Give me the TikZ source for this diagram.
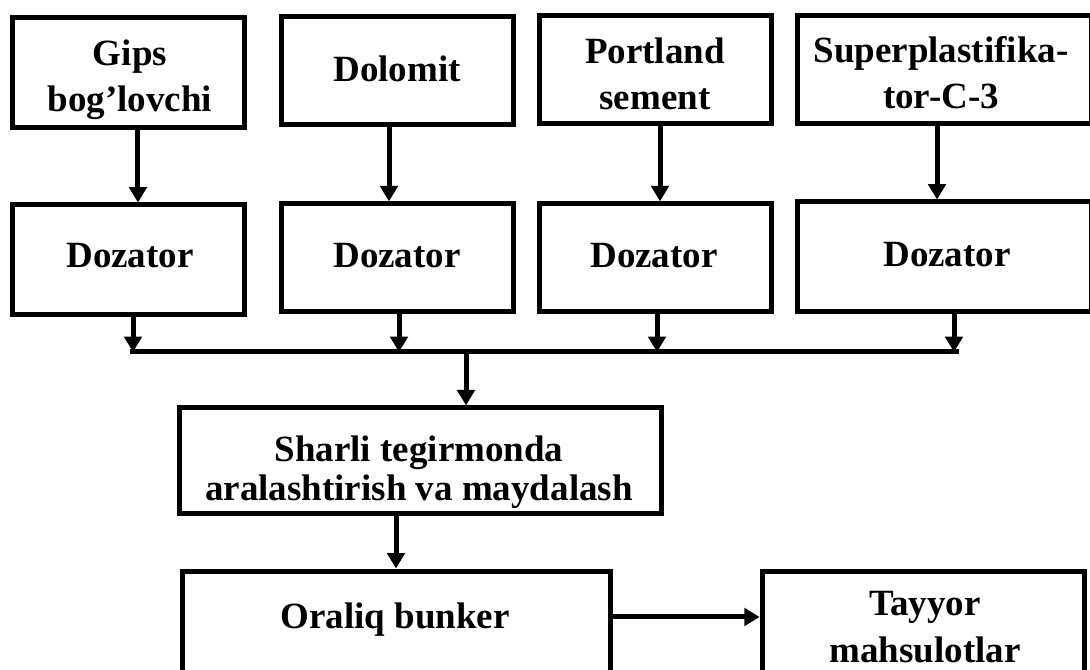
\documentclass[tikz,border=0pt]{standalone}
\usepackage{fontspec}
\setmainfont{Liberation Serif}
\usetikzlibrary{arrows.meta}

\tikzset{
  blok/.style={draw, line width=3.75pt, inner sep=0pt},
  matn/.style={font=\bfseries\fontsize{27.75pt}{34.5pt}\selectfont,
    align=center, inner sep=0pt, anchor=base},
  strelka/.style={line width=3.75pt, -{Triangle[width=13pt, length=11.5pt]}},
}

\begin{document}
\begin{tikzpicture}[x=0.75pt, y=-0.75pt]
  \useasboundingbox (0,0) rectangle (1090,670);

  \def\W{174pt};
  \def\Wb{221pt};
  \def\H{80.5pt};
  \def\Hb{82.5pt};

  % top row
  \node[blok, minimum width=\W, minimum height=\Hb] (gips) at (128.5, 73) {};
  \node[blok, minimum width=\W, minimum height=\H] (dolomit) at (397, 70.5) {};
  \node[blok, minimum width=\W, minimum height=\H] (portland) at (655, 69.5) {};
  \node[blok, minimum width=\Wb, minimum height=\H] (superplast) at (944.5, 69.5) {};

  % dozators
  \node[blok, minimum width=\W, minimum height=\Hb] (doz1) at (128.5, 260) {};
  \node[blok, minimum width=\W, minimum height=\H] (doz2) at (397, 257.5) {};
  \node[blok, minimum width=\W, minimum height=\H] (doz3) at (655, 257.5) {};
  \node[blok, minimum width=\Wb, minimum height=\Hb] (doz4) at (944.5, 257) {};

  % mill, bunker, product
  \node[blok, minimum width=361.5pt, minimum height=79pt] (tegirmon) at (420, 460.5) {};
  \node[blok, minimum width=321pt, minimum height=75.75pt] (bunker) at (396, 621.5) {};
  \node[blok, minimum width=242pt, minimum height=75.75pt] (tayyor) at (923.5, 621.5) {};

  % bus
  \coordinate (shinaL) at (130, 352);
  \coordinate (shinaR) at (959, 352);
  \coordinate (shina) at (466, 352);
  \coordinate (v1) at (133, 352);
  \coordinate (v2) at (399, 352);
  \coordinate (v3) at (657, 352);
  \coordinate (v4) at (954, 352);

  % arrows
  \draw[strelka] ([xshift=7.1pt]gips.south) -- ([xshift=7.1pt]doz1.north);
  \draw[strelka] ([xshift=-6pt]dolomit.south) -- ([xshift=-6pt]doz2.north);
  \draw[strelka] ([xshift=3.75pt]portland.south) -- ([xshift=3.75pt]doz3.north);
  \draw[strelka] ([xshift=-5.6pt]superplast.south) -- ([xshift=-5.6pt]doz4.north);

  \draw[strelka] (doz1.south -| v1) -- (v1);
  \draw[strelka] (doz2.south -| v2) -- (v2);
  \draw[strelka] (doz3.south -| v3) -- (v3);
  \draw[strelka] (doz4.south -| v4) -- (v4);
  \draw[line width=3.75pt] (shinaL) -- (shinaR);

  \draw[strelka] (shina) -- (shina |- tegirmon.north);
  \draw[strelka] (tegirmon.south -| bunker.north) -- (bunker.north);
  \draw[strelka] ([yshift=3.4pt]bunker.east) -- ([yshift=3.4pt]tayyor.west);

  % labels (base = last line)
  \node[matn] (gips-t) at (130, 112) {Gips\\bog’lovchi};
  \node[matn] (dolomit-t) at (397, 82) {Dolomit};
  \node[matn] (portland-t) at (655, 110) {Portland\\sement};
  \node[matn] (superplast-t) at (941, 109) {Superplastifika-\\tor-C-3};

  \node[matn] (doz1-t) at (130, 268) {Dozator};
  \node[matn] (doz2-t) at (397, 268) {Dozator};
  \node[matn] (doz3-t) at (654, 268) {Dozator};
  \node[matn] (doz4-t) at (947, 267) {Dozator};

  \node[matn, font=\bfseries\fontsize{27.75pt}{28.5pt}\selectfont] (tegirmon-t)
    at (419, 500) {Sharli tegirmonda\\aralashtirish va maydalash};
  \node[matn] (bunker-t) at (395, 628) {Oraliq bunker};
  \node[matn, font=\bfseries\fontsize{27.75pt}{35.25pt}\selectfont] (tayyor-t)
    at (925, 662) {Tayyor\\mahsulotlar};

\end{tikzpicture}
\end{document}
